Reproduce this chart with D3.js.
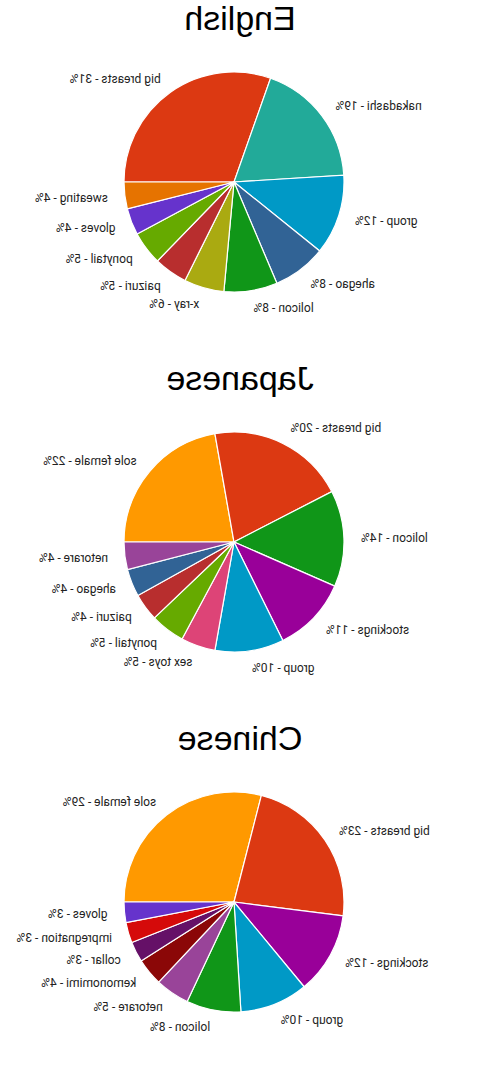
<!DOCTYPE html>
<html>
<head>
<meta charset="utf-8">
<script src="https://cdn.jsdelivr.net/npm/d3@7/dist/d3.min.js"></script>
<style>
  html, body { margin: 0; padding: 0; background: #fff; }
  svg { display: block; }
</style>
</head>
<body>
<script>
// ---- data ----
const englishTags = ["big breasts","nakadashi","group","ahegao","lolicon","x-ray","paizuri","ponytail","gloves","sweating"];
const englishValues = [31,19,12,8,8,6,5,5,4,4];

const japaneseTags = ["sole female","big breasts","lolicon","stockings","group","sex toys","ponytail","paizuri","ahegao","netorare"];
const japaneseValues = [22,20,14,11,10,5,5,4,4,4];

const chineseTags = ["sole female","big breasts","stockings","group","lolicon","netorare","kemonomimi","collar","impregnation","gloves"];
const chineseValues = [29,23,12,10,8,5,4,3,3,3];

const titles = ["English","Japanese","Chinese"];

// palette (tag -> colour)
const paletteTags = ["big breasts","nakadashi","group","ahegao","lolicon","x-ray","paizuri","ponytail","gloves","sweating",
                     "sole female","stockings","sex toys","netorare","kemonomimi","collar","impregnation"];
const paletteColors = ["#dc3912","#22aa99","#0099c6","#316395","#109618","#aaaa11","#b82e2e","#66aa00","#6633cc","#e67300",
                       "#ff9900","#990099","#dd4477","#994499","#8b0707","#651067","#d50a0a"];
const color = d3.scaleOrdinal().domain(paletteTags).range(paletteColors);

// ---- layout ----
const W = 480, H = 1080, panelH = 360;
const cx = 246, cy = 182, r = 110, labelR = 127;

const svg = d3.select("body").append("svg").attr("width", W).attr("height", H);
// whole picture is mirrored horizontally
const root = svg.append("g").attr("transform", `translate(${W},0) scale(-1,1)`);

const datasets = [
  {title: titles[0], tags: englishTags, values: englishValues},
  {title: titles[1], tags: japaneseTags, values: japaneseValues},
  {title: titles[2], tags: chineseTags, values: chineseValues}
];

const pie = d3.pie().sort(null).value(d => d.v)
  .startAngle(Math.PI / 2).endAngle(Math.PI / 2 - 2 * Math.PI);
const arc = d3.arc().innerRadius(0).outerRadius(r);

datasets.forEach((ds, i) => {
  const g = root.append("g").attr("transform", `translate(0,${i * panelH})`);
  g.append("text")
    .attr("x", W / 2).attr("y", 30)
    .attr("text-anchor", "middle")
    .attr("font-family", "'Liberation Sans', Arial, sans-serif")
    .attr("font-size", 34)
    .attr("fill", "#000")
    .text(ds.title);

  const data = ds.tags.map((t, j) => ({t, v: ds.values[j]}));
  const arcs = pie(data);
  const pg = g.append("g").attr("transform", `translate(${cx},${cy})`);
  pg.selectAll("path").data(arcs).join("path")
    .attr("d", arc)
    .attr("fill", d => color(d.data.t))
    .attr("stroke", "#fff").attr("stroke-width", 1.2);

  pg.selectAll("text.lbl").data(arcs).join("text")
    .attr("class", "lbl")
    .each(function(d) {
      const a = (d.startAngle + d.endAngle) / 2;
      const x = labelR * Math.sin(a), y = -labelR * Math.cos(a);
      d3.select(this)
        .attr("x", x).attr("y", y).attr("dy", "0.35em")
        .attr("text-anchor", Math.sin(a) >= 0 ? "start" : "end");
    })
    .attr("font-family", "Roboto, 'Liberation Sans', Arial, sans-serif")
    .attr("font-size", 12)
    .attr("fill", "#222")
    .text(d => `${d.data.t} - ${d.data.v}%`);
});
</script>
</body>
</html>
